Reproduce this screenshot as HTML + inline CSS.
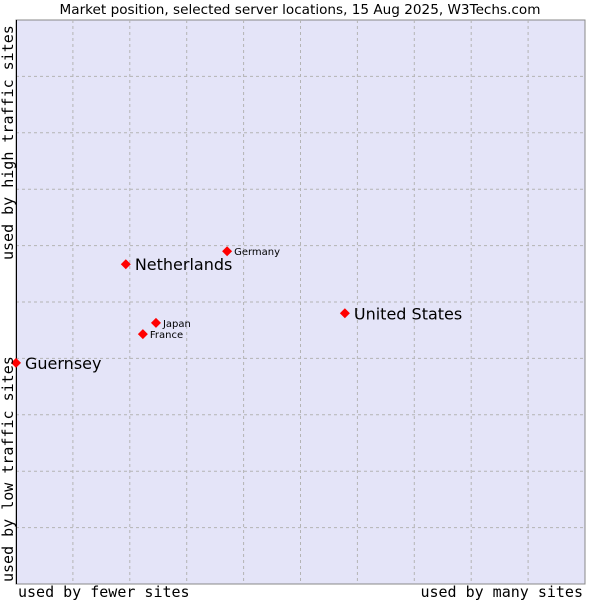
<!DOCTYPE html>
<html><head><meta charset="utf-8"><style>
body{margin:0;background:#fff;width:600px;height:600px;overflow:hidden}
</style></head><body>
<svg width="600" height="600" xmlns="http://www.w3.org/2000/svg" id="chart">
<rect x="0" y="0" width="600" height="600" fill="#fff"/>
<text x="300" y="14" text-anchor="middle" font-family="DejaVu Sans, sans-serif" font-size="13.6" fill="#000">Market position, selected server locations, 15 Aug 2025, W3Techs.com</text>
<rect x="16" y="20" width="569" height="564" fill="#e4e4f8" stroke="#888" stroke-width="1"/>
<g id="grid"></g>
<line x1="16.5" y1="20" x2="16.5" y2="584" stroke="#000"/>
<g id="marks"></g>
<text x="18" y="597" font-family="DejaVu Sans Mono, monospace" font-size="15">used by fewer sites</text>
<text x="583" y="597" text-anchor="end" font-family="DejaVu Sans Mono, monospace" font-size="15">used by many sites</text>
<text transform="translate(13,582) rotate(-90)" font-family="DejaVu Sans Mono, monospace" font-size="15">used by low traffic sites</text>
<text transform="translate(13,260) rotate(-90)" font-family="DejaVu Sans Mono, monospace" font-size="15">used by high traffic sites</text>
</svg>
<script>
const names = ["Netherlands","Germany","United States","Japan","France","Guernsey"];
const xValues = [19.3,37.1,57.8,24.6,22.3,0];
const yValues = [56.7,59.0,48.0,46.3,44.3,39.2];
const bigLabel = [true,false,true,false,false,true];
const gridTicks = [10,20,30,40,50,60,70,80,90];
const NS="http://www.w3.org/2000/svg";
const L=16,R=585,T=20,B=584;
function sx(v){return L+v/100*(R-L);}
function sy(v){return B-v/100*(B-T);}
const grid=document.getElementById('grid');
gridTicks.forEach(t=>{
  const v=document.createElementNS(NS,'line');
  v.setAttribute('x1',sx(t));v.setAttribute('x2',sx(t));v.setAttribute('y1',T);v.setAttribute('y2',B);
  v.setAttribute('stroke','#b4b4b4');v.setAttribute('stroke-dasharray','3,3');
  
  
  grid.appendChild(v);
  const h=document.createElementNS(NS,'line');
  h.setAttribute('y1',sy(t));h.setAttribute('y2',sy(t));h.setAttribute('x1',L);h.setAttribute('x2',R);
  h.setAttribute('stroke','#b4b4b4');h.setAttribute('stroke-dasharray','3,3');
  
  
  grid.appendChild(h);
});
const marks=document.getElementById('marks');
names.forEach((n,i)=>{
  const x=sx(xValues[i]),y=sy(yValues[i]);
  const p=document.createElementNS(NS,'polygon');
  p.setAttribute('points',`${x},${y-5} ${x+5},${y} ${x},${y+5} ${x-5},${y}`);
  p.setAttribute('fill','#f00');
  
  
  marks.appendChild(p);
  const t=document.createElementNS(NS,'text');
  const big=bigLabel[i];
  t.setAttribute('x',x+(big?9:7));
  t.setAttribute('y',y+(big?6:4));
  t.setAttribute('font-family','DejaVu Sans, sans-serif');
  t.setAttribute('font-size',big?16:10);
  t.textContent=n;
  
  
  marks.appendChild(t);
});
</script>
</body></html>
